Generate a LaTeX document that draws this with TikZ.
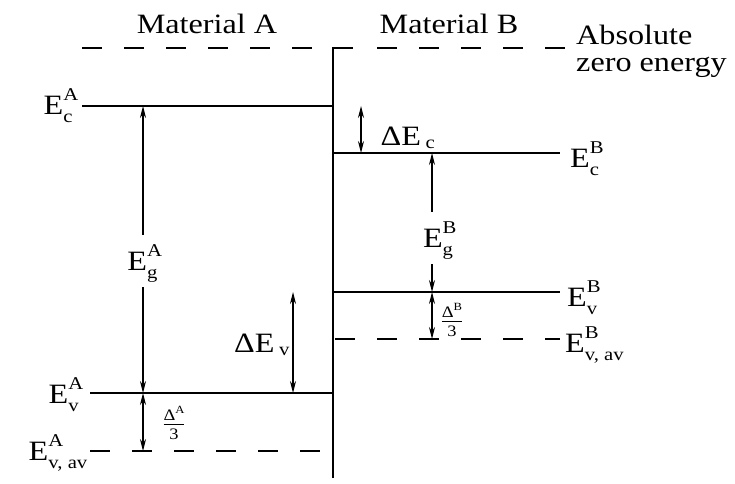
\documentclass[tikz,border=0pt]{standalone}
\usepackage{fontspec}
\setmainfont{Liberation Serif}[FakeStretch=1.15]
\usetikzlibrary{arrows.meta}
\newcommand{\subfont}{\fontsize{18}{18}\selectfont}
\newcommand{\fracfont}{\fontsize{16}{16}\selectfont}
\newcommand{\lvl}[2]{E$^{\mbox{\subfont\raisebox{4pt}{#2}}}_{\mbox{\subfont\raisebox{-2pt}{#1}}}$}
\newcommand{\third}[1]{$\frac{\mbox{\fracfont Δ\raisebox{7pt}{\fontsize{11}{11}\selectfont #1}}}{\mbox{\fracfont 3}}$}

\begin{document}
\begin{tikzpicture}[x=1pt,y=-1pt,
  every node/.style={font=\fontsize{28}{27}\selectfont, inner sep=0pt},
  >={Stealth[length=12pt,width=6pt]},
  level/.style={line width=2.4pt},
  vac/.style={line width=2.4pt, dash pattern=on 20pt off 22pt},
  oneway/.style={line width=1.2pt, ->},
  twoway/.style={line width=1.2pt, <->}]
  \useasboundingbox (0,0) rectangle (735,483);
  \coordinate (ifbot) at (333,478);
  \coordinate (iftop) at (333,48);
  \coordinate (ifcap) at (353,48);
  \draw[line width=2pt] (ifbot) -- (iftop) -- (ifcap);
  \foreach \n/\a/\b/\y in {cA/82/333/106,vA/90/333/393,cB/333/560/153,vB/333/560/292}{
    \coordinate (\n-l) at (\a,\y);
    \coordinate (\n-r) at (\b,\y);
    \draw[level] (\n-l) -- (\n-r);
  }
  \foreach \n/\a/\b/\y in {zA/82/316/48,zB/377/565/48,avA/90/325/451,avB/335/560/339}{
    \coordinate (\n-l) at (\a,\y);
    \coordinate (\n-r) at (\b,\y);
    \draw[vac] (\n-l) -- (\n-r);
  }
  \node[anchor=base] (matA) at (207,33) {Material A};
  \node[anchor=base] (matB) at (449,33) {Material B};
  \node[anchor=north west, align=left] (absz) at (576,25) {Absolute\\zero energy};
  \node[anchor=base east] (lcA) at (79,114) {\lvl{c}{A}};
  \node[anchor=base east] (lvA) at (84,403) {\lvl{v}{A}};
  \node[anchor=base east] (lavA) at (88,460) {\lvl{v, av}{A}};
  \node[anchor=base west] (lcB) at (570,167) {\lvl{c}{B}};
  \node[anchor=base west] (lvB) at (567,306) {\lvl{v}{B}};
  \node[anchor=base west] (lavB) at (565,352) {\lvl{v, av}{B}};
  \node[anchor=base] (egA) at (145,270) {\lvl{g}{A}};
  \node[anchor=base] (egB) at (440,247) {\lvl{g}{B}};
  \node[anchor=base] (dEc) at (408,145) {ΔE\,$_{\mbox{\subfont c}}$};
  \node[anchor=base] (dEv) at (262,352) {ΔE\,$_{\mbox{\subfont v}}$};
  \node (thA) at (174,423) {\third{A}};
  \node (thB) at (452,320) {\third{B}};
  \coordinate (gA-t) at (143,106);
  \coordinate (gA-b) at (143,393);
  \coordinate (gB-t) at (432,153);
  \coordinate (gB-b) at (432,292);
  \draw[oneway, shorten <=10pt] (egA.north -| gA-t) -- (gA-t);
  \draw[oneway, shorten <=5pt] (egA.south -| gA-b) -- (gA-b);
  \draw[oneway, shorten <=10pt] (egB.north -| gB-t) -- (gB-t);
  \draw[oneway, shorten <=5pt] (egB.south -| gB-b) -- (gB-b);
  \foreach \n/\x/\ya/\yb in {dc/361/106/153,dv/293/292/393,tA/143/393/451,tB/432/292/339}{
    \coordinate (\n-t) at (\x,\ya);
    \coordinate (\n-b) at (\x,\yb);
    \draw[twoway] (\n-t) -- (\n-b);
  }
\end{tikzpicture}
\end{document}
